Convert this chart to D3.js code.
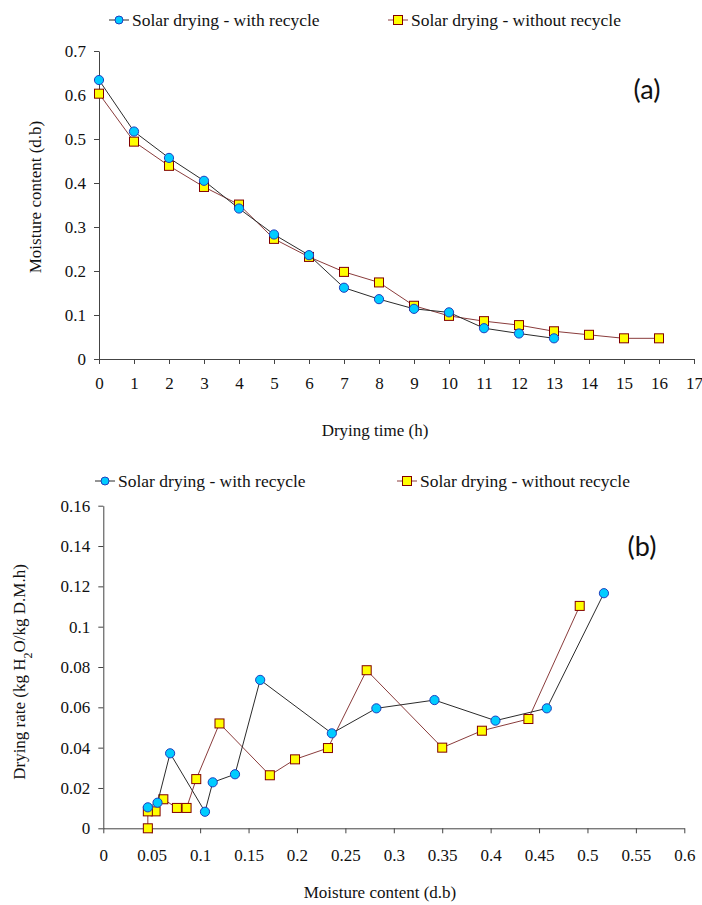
<!DOCTYPE html>
<html>
<head>
<meta charset="utf-8">
<script src="https://cdn.jsdelivr.net/npm/d3@7"></script>
<style>
  body { margin: 0; background: #fff; }
  svg text { font-family: "Times New Roman", "Liberation Serif", "DejaVu Serif", serif; fill: #111; }
</style>
</head>
<body>
<div id="chart"></div>
<script>
// panel (a): moisture content vs drying time
const hoursWith = [0, 1, 2, 3, 4, 5, 6, 7, 8, 9, 10, 11, 12, 13];
const moistureWith = [0.634, 0.517, 0.457, 0.405, 0.342, 0.283, 0.236, 0.162, 0.136, 0.114, 0.106, 0.070, 0.058, 0.047];
const hoursWithout = [0, 1, 2, 3, 4, 5, 6, 7, 8, 9, 10, 11, 12, 13, 14, 15, 16];
const moistureWithout = [0.603, 0.494, 0.439, 0.391, 0.351, 0.273, 0.232, 0.198, 0.174, 0.121, 0.098, 0.086, 0.077, 0.063, 0.055, 0.047, 0.047];

// panel (b): drying rate vs moisture content
const rateXWith = [0.517, 0.458, 0.405, 0.342, 0.282, 0.236, 0.162, 0.136, 0.113, 0.105, 0.069, 0.056, 0.046];
const rateWith = [0.1166, 0.0595, 0.0534, 0.0636, 0.0595, 0.0471, 0.0736, 0.0268, 0.0228, 0.0082, 0.0372, 0.0127, 0.0104];
const rateXWithout = [0.492, 0.439, 0.391, 0.350, 0.272, 0.232, 0.198, 0.172, 0.120, 0.096, 0.086, 0.076, 0.062, 0.054, 0.046, 0.046];
const rateWithout = [0.1103, 0.0542, 0.0484, 0.0400, 0.0784, 0.0398, 0.0342, 0.0263, 0.0520, 0.0244, 0.0101, 0.0101, 0.0144, 0.0084, 0.0084, 0.0];

const seriesNames = ["Solar drying - with recycle", "Solar drying - without recycle"];
const ticksA_x = d3.range(0, 18, 1);
const ticksA_y = [0, 0.1, 0.2, 0.3, 0.4, 0.5, 0.6, 0.7];
const ticksB_x = [0, 0.05, 0.1, 0.15, 0.2, 0.25, 0.3, 0.35, 0.4, 0.45, 0.5, 0.55, 0.6];
const ticksB_y = [0, 0.02, 0.04, 0.06, 0.08, 0.1, 0.12, 0.14, 0.16];

const SERIF = "'Times New Roman', 'Liberation Serif', 'DejaVu Serif', serif";
const W = 702, H = 905;
const svg = d3.select("#chart").append("svg")
    .attr("width", W)
    .attr("height", H)
    .style("background-color", "white");

const styleWith = { line: "#2b2b2b", fill: "#00ccff", stroke: "#1f3fbf" };
const styleWithout = { line: "#8a3c3c", fill: "#ffff00", stroke: "#800000" };

function drawAxes(x, y, xTicks, yTicks, xFmt, yFmt, xLabelDy) {
    const gx = svg.append("g")
        .attr("transform", `translate(0,${y.range()[0]})`)
        .call(d3.axisBottom(x).tickValues(xTicks).tickFormat(xFmt).tickSize(5).tickSizeOuter(0).tickPadding(xLabelDy));
    const gy = svg.append("g")
        .attr("transform", `translate(${x.range()[0]},0)`)
        .call(d3.axisLeft(y).tickValues(yTicks).tickFormat(yFmt).tickSize(5).tickSizeOuter(0).tickPadding(8));
    [gx, gy].forEach(g => {
        g.attr("font-family", SERIF);
        g.selectAll("path, line").attr("stroke", "#444").attr("stroke-width", 1);
        g.selectAll("text")
            .style("font-family", SERIF)
            .style("font-size", "17px")
            .attr("fill", "#111");
    });
}

function drawSeries(xs, ys, x, y, st, shape) {
    const pts = xs.map((v, i) => [x(v), y(ys[i])]);
    svg.append("path")
        .attr("d", d3.line()(pts))
        .attr("fill", "none")
        .attr("stroke", st.line)
        .attr("stroke-width", 1);
    const g = svg.append("g");
    if (shape === "circle") {
        g.selectAll("circle").data(pts).enter().append("circle")
            .attr("cx", d => d[0]).attr("cy", d => d[1]).attr("r", 4.6)
            .attr("fill", st.fill).attr("stroke", st.stroke).attr("stroke-width", 1);
    } else {
        g.selectAll("rect").data(pts).enter().append("rect")
            .attr("x", d => d[0] - 4.5).attr("y", d => d[1] - 4.5)
            .attr("width", 9).attr("height", 9)
            .attr("fill", st.fill).attr("stroke", st.stroke).attr("stroke-width", 1);
    }
}

function legendItem(cx, cy, st, shape, label) {
    svg.append("line")
        .attr("x1", cx - 10).attr("x2", cx + 10).attr("y1", cy).attr("y2", cy)
        .attr("stroke", st.line).attr("stroke-width", 1);
    if (shape === "circle") {
        svg.append("circle").attr("cx", cx).attr("cy", cy).attr("r", 4)
            .attr("fill", st.fill).attr("stroke", st.stroke);
    } else {
        svg.append("rect").attr("x", cx - 4.5).attr("y", cy - 4.5).attr("width", 9).attr("height", 9)
            .attr("fill", st.fill).attr("stroke", st.stroke);
    }
    svg.append("text")
        .attr("x", cx + 13).attr("y", cy + 6)
        .style("font-family", SERIF)
        .style("font-size", "17.5px")
        .text(label);
}

function title(x, y, rot, txt) {
    return svg.append("text")
        .attr("transform", `translate(${x},${y}) rotate(${rot})`)
        .attr("text-anchor", "middle")
        .style("font-family", SERIF)
        .style("font-size", "17px")
        .text(txt);
}

// ---------- panel (a) ----------
const xA = d3.scaleLinear().domain([0, 17]).range([99, 694]);
const yA = d3.scaleLinear().domain([0, 0.7]).range([359, 51]);
drawAxes(xA, yA, ticksA_x, ticksA_y, d3.format("d"), d => d === 0 ? "0" : d3.format(".1f")(d), 13);
drawSeries(hoursWithout, moistureWithout, xA, yA, styleWithout, "square");
drawSeries(hoursWith, moistureWith, xA, yA, styleWith, "circle");

legendItem(119, 20, styleWith, "circle", seriesNames[0]);
legendItem(398, 20, styleWithout, "square", seriesNames[1]);

title(41, 197, -90, "Moisture content (d.b)");
title(375, 436, 0, "Drying time (h)");
svg.append("text")
    .attr("x", 647).attr("y", 99)
    .attr("text-anchor", "middle")
    .style("font-family", "Lato, 'Open Sans', sans-serif")
    .style("font-size", "27px")
    .text("(a)");

// ---------- panel (b) ----------
const xB = d3.scaleLinear().domain([0, 0.6]).range([103.3, 684.3]);
const yB = d3.scaleLinear().domain([0, 0.16]).range([828.3, 505.7]);
drawAxes(xB, yB, ticksB_x, ticksB_y, d => d === 0 ? "0" : String(+d.toFixed(2)), d => d === 0 ? "0" : String(+d.toFixed(2)), 16);
drawSeries(rateXWithout, rateWithout, xB, yB, styleWithout, "square");
drawSeries(rateXWith, rateWith, xB, yB, styleWith, "circle");

legendItem(105, 481, styleWith, "circle", seriesNames[0]);
legendItem(407, 481, styleWithout, "square", seriesNames[1]);

const yTitleB = title(25, 672, -90, "");
yTitleB.append("tspan").text("Drying rate (kg H");
yTitleB.append("tspan").attr("baseline-shift", "sub").style("font-size", "12px").text("2");
yTitleB.append("tspan").text("O/kg D.M.h)");

title(380, 898, 0, "Moisture content (d.b)");
svg.append("text")
    .attr("x", 642).attr("y", 556)
    .attr("text-anchor", "middle")
    .style("font-family", "Lato, 'Open Sans', sans-serif")
    .style("font-size", "27px")
    .text("(b)");
</script>
</body>
</html>
